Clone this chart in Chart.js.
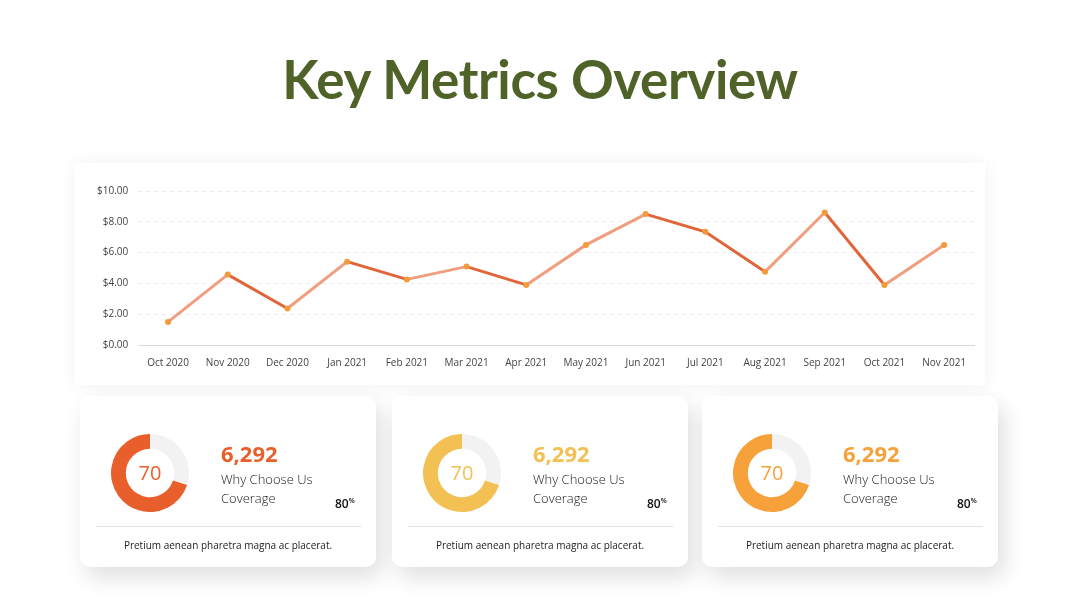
<!DOCTYPE html>
<html>
<head>
<meta charset="utf-8">
<script src="https://cdn.jsdelivr.net/npm/chart.js@4.4.0/dist/chart.umd.min.js"></script>
<style>
  html, body { margin: 0; padding: 0; background: #fff; }
  body { width: 1080px; height: 608px; position: relative; overflow: hidden; font-family: "Open Sans", sans-serif; }
  h1 { position: absolute; left: 0; top: 47px; width: 1080px; margin: 0; text-align: center;
       font-family: Lato, sans-serif; font-weight: 700; font-size: 53px; color: #4f6228; letter-spacing: -0.4px; }
  .chart-card { position: absolute; left: 75px; top: 163px; width: 910px; height: 222px; background: #fff;
       box-shadow: 0 0 18px rgba(0,0,0,0.06); }
  .chart-card canvas { position: absolute; left: 12px; top: 12px; }
  .card { position: absolute; top: 396px; width: 296px; height: 171px; background: #fff; border-radius: 10px;
       box-shadow: 6px 10px 22px rgba(0,0,0,0.13); }
  .card .donut { position: absolute; left: 31px; top: 38px; width: 78px; height: 78px; }
  .card .center { position: absolute; left: 31px; top: 38px; width: 78px; line-height: 78px; text-align: center; font-size: 20px; }
  .card .num { position: absolute; left: 141px; top: 42px; font-weight: 700; font-size: 22px; }
  .card .lbl { position: absolute; left: 141px; top: 74px; font-size: 13px; line-height: 19px; color: #222; font-weight: 300; }
  .card .pct { position: absolute; left: 255px; top: 99px; font-size: 12px; font-weight: 600; color: #111; }
  .card .pct sup { font-size: 7px; vertical-align: 5px; }
  .card hr { position: absolute; left: 16px; top: 130px; width: 265px; margin: 0; border: 0; border-top: 1.5px solid #e2e2e2; }
  .card .foot { position: absolute; left: 0; top: 142px; width: 296px; text-align: center; font-size: 10px; color: #222; }
</style>
</head>
<body>
<h1>Key Metrics Overview</h1>
<div class="chart-card"><canvas id="lineChart" width="900" height="200"></canvas></div>
<div id="cards"></div>
<script>
// line chart data
const months = ["Oct 2020", "Nov 2020", "Dec 2020", "Jan 2021", "Feb 2021", "Mar 2021", "Apr 2021",
                "May 2021", "Jun 2021", "Jul 2021", "Aug 2021", "Sep 2021", "Oct 2021", "Nov 2021"];
const prices = [1.5, 4.57, 2.37, 5.41, 4.26, 5.09, 3.9, 6.5, 8.5, 7.35, 4.75, 8.6, 3.9, 6.5];

// cards data
const donutValues = [70, 70, 70];
const cardNumbers = ["6,292", "6,292", "6,292"];
const cardPercents = ["80", "80", "80"];
const cardColors = ["#e95f2b", "#f2c053", "#f7a13b"];
const cardLefts = [80, 392, 702];

new Chart(document.getElementById("lineChart"), {
    type: "line",
    data: {
        labels: months,
        datasets: [{
            data: prices,
            borderWidth: 3,
            borderColor: "#ea8a63",
            segment: {
                borderColor: ctx => ctx.p1.parsed.y > ctx.p0.parsed.y ? "#ef9f80" : "#e0663a"
            },
            pointRadius: 3,
            pointBackgroundColor: "#f39a3a",
            pointBorderWidth: 0,
            tension: 0
        }]
    },
    options: {
        responsive: false,
        animation: false,
        layout: { padding: { top: 3, right: 13, left: 0, bottom: 2 } },
        plugins: { legend: { display: false }, tooltip: { enabled: false } },
        scales: {
            x: {
                offset: true,
                grid: { display: false },
                border: { color: "#d9d9d9", width: 1 },
                ticks: { color: "#444", font: { family: "Open Sans", size: 10 }, padding: 4, maxRotation: 0 }
            },
            y: {
                min: 0, max: 10,
                ticks: { stepSize: 2, color: "#444", font: { family: "Open Sans", size: 10 }, padding: 10,
                         callback: v => "$" + v.toFixed(2) },
                grid: { color: "#ececec", drawTicks: false },
                border: { display: false, dash: [4, 4] }
            }
        }
    }
});

const cardsEl = document.getElementById("cards");
donutValues.forEach((v, i) => {
    const card = document.createElement("div");
    card.className = "card";
    card.style.left = cardLefts[i] + "px";
    card.innerHTML =
        '<canvas class="donut" width="78" height="78"></canvas>' +
        '<div class="center" style="color:' + cardColors[i] + '">' + v + '</div>' +
        '<div class="num" style="color:' + cardColors[i] + '">' + cardNumbers[i] + '</div>' +
        '<div class="lbl">Why Choose Us<br>Coverage</div>' +
        '<div class="pct">' + cardPercents[i] + '<sup>%</sup></div>' +
        '<hr>' +
        '<div class="foot">Pretium aenean pharetra magna ac placerat.</div>';
    cardsEl.appendChild(card);
    new Chart(card.querySelector("canvas"), {
        type: "doughnut",
        data: {
            datasets: [{
                data: [100 - v, v],
                backgroundColor: ["#f2f2f2", cardColors[i]],
                borderWidth: 0
            }]
        },
        options: {
            responsive: false,
            animation: false,
            cutout: "62%",
            plugins: { legend: { display: false }, tooltip: { enabled: false } }
        }
    });
});
</script>
</body>
</html>
